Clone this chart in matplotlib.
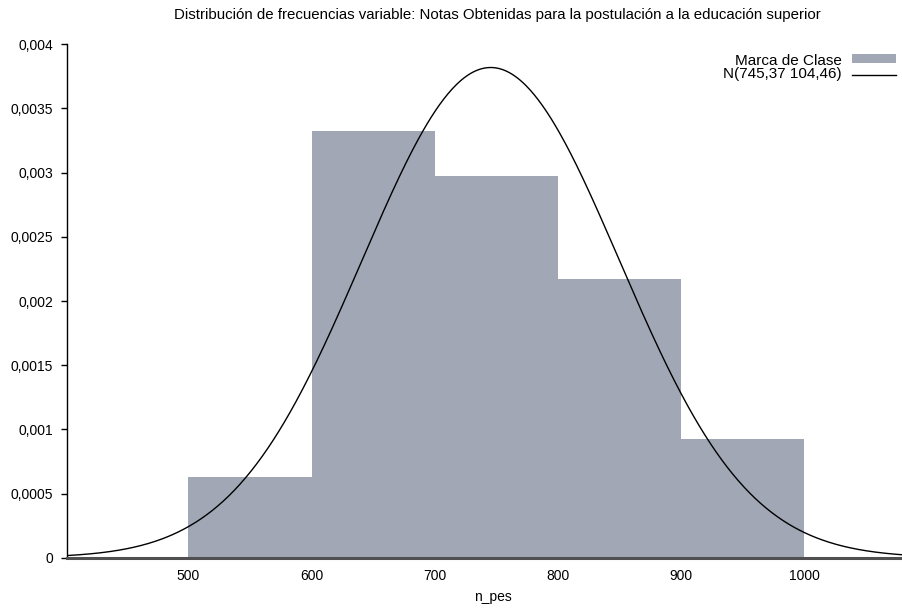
import numpy as np
import matplotlib
matplotlib.use("Agg")
import matplotlib.pyplot as plt
from matplotlib.patches import Rectangle
from matplotlib.lines import Line2D

plt.rcParams['font.family'] = ['Liberation Sans', 'DejaVu Sans']

# Histogram classes (edges) and relative-frequency densities
bin_edges = [500, 600, 700, 800, 900, 1000]
densities = [0.000626, 0.003327, 0.002974, 0.002171, 0.000925]

# Fitted normal parameters
mu = 745.37
sigma = 104.46

x_ticks = [500, 600, 700, 800, 900, 1000]
y_ticks = [0, 0.0005, 0.001, 0.0015, 0.002, 0.0025, 0.003, 0.0035, 0.004]
y_tick_labels = ['0', '0,0005', '0,001', '0,0015', '0,002', '0,0025', '0,003', '0,0035', '0,004']

title = 'Distribución de frecuencias variable: Notas Obtenidas para la postulación a la educación superior'
x_label = 'n_pes'
legend_bar = 'Marca de Clase'
legend_line = 'N(745,37 104,46)'

W, H = 903, 610
fig = plt.figure(figsize=(W / 100, H / 100), dpi=100)
ax = fig.add_axes([0.0742, 0.0857, 0.9258, 0.8417])

bar_color = '#a1a7b5'
xmin, xmax = 401.5, 1080.0
widths = np.diff(bin_edges)
ax.bar(bin_edges[:-1], densities, width=widths, align='edge',
       color=bar_color, edgecolor='none', zorder=1)

xs = np.linspace(xmin, xmax, 600)
pdf = np.exp(-0.5 * ((xs - mu) / sigma) ** 2) / (sigma * np.sqrt(2 * np.pi))
ax.plot(xs, pdf, color='black', lw=1.0, zorder=3)

ax.set_xlim(xmin, xmax)
ax.set_ylim(0, 0.004)
ax.set_xticks(x_ticks)
ax.set_xticklabels([str(v) for v in x_ticks], fontsize=10)
ax.set_yticks(y_ticks)
ax.set_yticklabels(y_tick_labels, fontsize=10)
ax.tick_params(axis='x', length=0, pad=8)
ax.tick_params(axis='y', direction='out', length=4, width=1, pad=6)

for s in ['top', 'right']:
    ax.spines[s].set_visible(False)
ax.spines['left'].set_linewidth(1.0)
ax.spines['left'].set_color('black')
ax.spines['bottom'].set_linewidth(2.2)
ax.spines['bottom'].set_color('#505050')
ax.spines['bottom'].set_zorder(4)


def fx(px):
    return px / W


def fy(py):
    return 1 - py / H


fig.text(fx(493), fy(597), x_label, ha='center', va='center', fontsize=10)
fig.text(fx(497.5), fy(15), title, ha='center', va='center', fontsize=10.8)

# Legend, placed in figure pixel positions
fig.text(fx(842), fy(65), legend_bar, ha='right', va='baseline', fontsize=11)
fig.text(fx(842), fy(78), legend_line, ha='right', va='baseline', fontsize=11)
fig.patches.append(Rectangle((fx(852), fy(63)), fx(896) - fx(852), fy(54) - fy(63),
                             transform=fig.transFigure, facecolor=bar_color,
                             edgecolor='none'))
fig.lines.append(Line2D([fx(852), fx(896)], [fy(74.5), fy(74.5)],
                        transform=fig.transFigure, color='black', lw=1.0))

fig.savefig('out.png', dpi=100)
